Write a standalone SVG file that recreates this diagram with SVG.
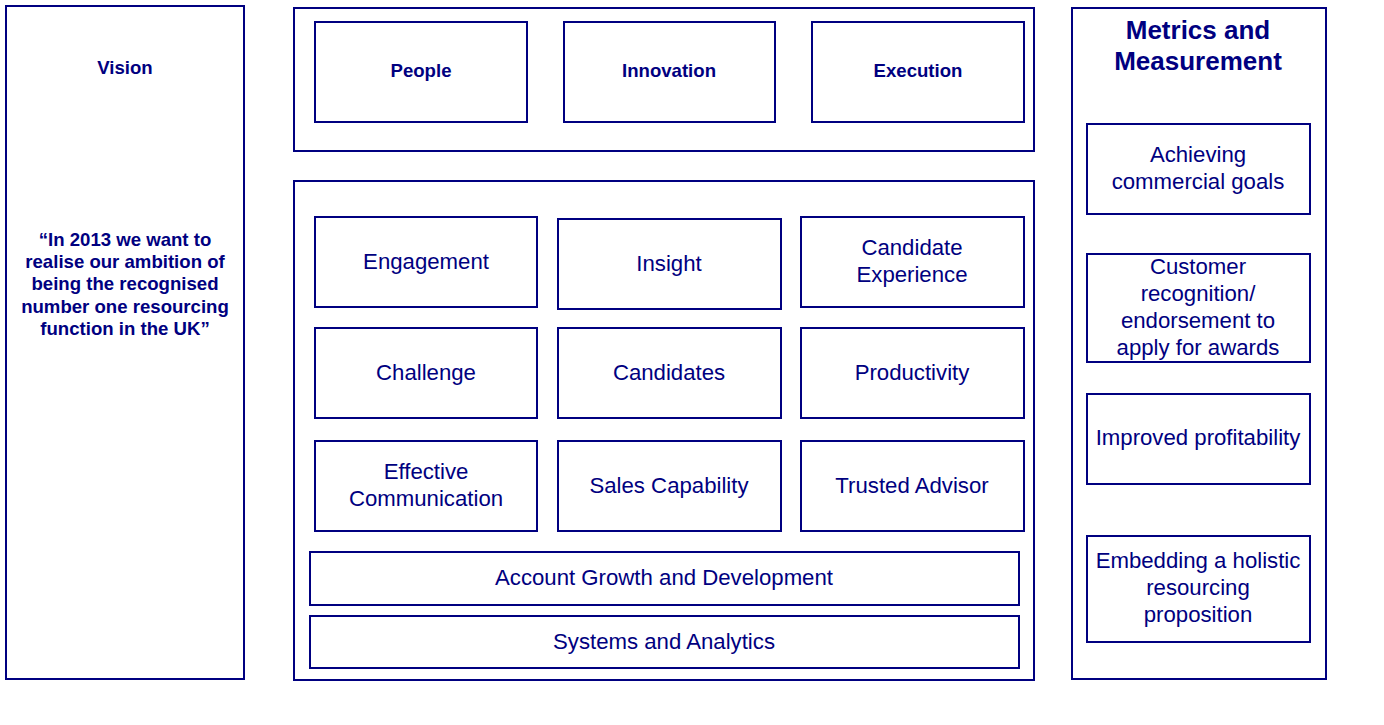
<svg xmlns="http://www.w3.org/2000/svg" width="1384" height="725" viewBox="0 0 1384 725">
<style>
rect{fill:#fff;stroke:#000080;stroke-width:2}
text{font-family:"Liberation Sans",Arial,sans-serif;fill:#000080;text-anchor:middle}
.b{font-weight:bold;font-size:18.6px}
.r{font-size:22.2px}
.t{font-weight:bold;font-size:26px}
</style>
<rect x="0" y="0" width="1384" height="725" style="stroke:none"/>
<g id="vision">
<rect x="6" y="6" width="238" height="673"/>
<text class="b" x="125" y="74">Vision</text>
<text class="b" x="125" y="246">“In 2013 we want to</text>
<text class="b" x="125" y="268">realise our ambition of</text>
<text class="b" x="125" y="290">being the recognised</text>
<text class="b" x="125" y="313">number one resourcing</text>
<text class="b" x="125" y="335">function in the UK”</text>
</g>
<g id="values">
<rect x="294" y="8" width="740" height="143"/>
</g>
<g id="people"><rect x="315" y="22" width="212" height="100"/><text class="b" x="421" y="77">People</text></g>
<g id="innovation"><rect x="564" y="22" width="211" height="100"/><text class="b" x="669" y="77">Innovation</text></g>
<g id="execution"><rect x="812" y="22" width="212" height="100"/><text class="b" x="918" y="77">Execution</text></g>
<g id="capabilities">
<rect x="294" y="181" width="740" height="499"/>
</g>
<g id="engagement"><rect x="315" y="217" width="222" height="90"/><text class="r" x="426" y="269">Engagement</text></g>
<g id="insight"><rect x="558" y="219" width="223" height="90"/><text class="r" x="669" y="271">Insight</text></g>
<g id="candidate-experience"><rect x="801" y="217" width="223" height="90"/><text class="r" x="912" y="255">Candidate</text><text class="r" x="912" y="282">Experience</text></g>
<g id="challenge"><rect x="315" y="328" width="222" height="90"/><text class="r" x="426" y="380">Challenge</text></g>
<g id="candidates"><rect x="558" y="328" width="223" height="90"/><text class="r" x="669" y="380">Candidates</text></g>
<g id="productivity"><rect x="801" y="328" width="223" height="90"/><text class="r" x="912" y="380">Productivity</text></g>
<g id="effective-communication"><rect x="315" y="441" width="222" height="90"/><text class="r" x="426" y="479">Effective</text><text class="r" x="426" y="506">Communication</text></g>
<g id="sales-capability"><rect x="558" y="441" width="223" height="90"/><text class="r" x="669" y="493">Sales Capability</text></g>
<g id="trusted-advisor"><rect x="801" y="441" width="223" height="90"/><text class="r" x="912" y="493">Trusted Advisor</text></g>
<g id="account-growth"><rect x="310" y="552" width="709" height="53"/><text class="r" x="664" y="585">Account Growth and Development</text></g>
<g id="systems"><rect x="310" y="616" width="709" height="52"/><text class="r" x="664" y="649">Systems and Analytics</text></g>
<g id="metrics">
<rect x="1072" y="8" width="254" height="671"/>
<text class="t" x="1198" y="39">Metrics and</text>
<text class="t" x="1198" y="70">Measurement</text>
</g>
<g id="achieving"><rect x="1087" y="124" width="223" height="90"/><text class="r" x="1198" y="162">Achieving</text><text class="r" x="1198" y="189">commercial goals</text></g>
<g id="customer"><rect x="1087" y="254" width="223" height="108"/><text class="r" x="1198" y="274">Customer</text><text class="r" x="1198" y="301">recognition/</text><text class="r" x="1198" y="328">endorsement to</text><text class="r" x="1198" y="355">apply for awards</text></g>
<g id="profitability"><rect x="1087" y="394" width="223" height="90"/><text class="r" x="1198" y="445">Improved profitability</text></g>
<g id="embedding"><rect x="1087" y="536" width="223" height="106"/><text class="r" x="1198" y="568">Embedding a holistic</text><text class="r" x="1198" y="595">resourcing</text><text class="r" x="1198" y="622">proposition</text></g>
<g id="connectors"/>
</svg>
